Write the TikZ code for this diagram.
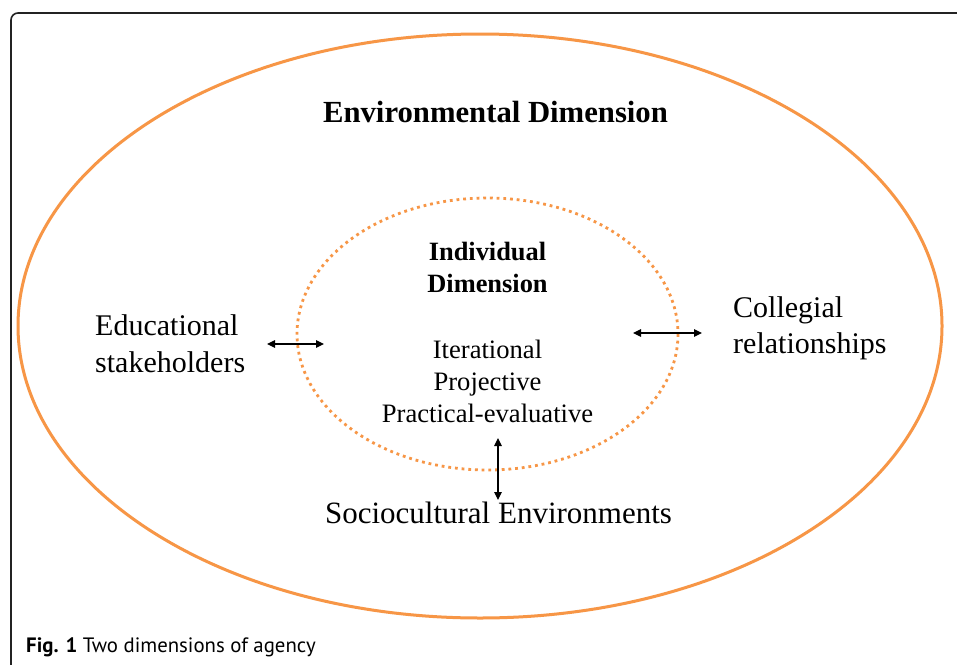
\documentclass[tikz,border=0pt]{standalone}
\usepackage{fontspec}
\setmainfont{Liberation Serif}
\newfontfamily\capfont{PT Sans}
\usetikzlibrary{arrows.meta}
\definecolor{orng}{RGB}{247,150,70}
\definecolor{framegray}{RGB}{35,35,35}
\tikzset{
  lbl/.style={inner sep=0pt, font=\fontsize{30}{37}\selectfont},
  boldlbl/.style={inner sep=0pt, font=\fontsize{30.7}{37}\selectfont\bfseries},
  innerlbl/.style={inner sep=0pt, align=center, font=\fontsize{26.6}{32}\selectfont},
  dbl/.style={line width=1.2pt, {Triangle[length=8pt,width=7.5pt]}-{Triangle[length=8pt,width=7.5pt]}},
}
\begin{document}
\begin{tikzpicture}[x=1pt,y=-1pt]
\useasboundingbox (0,0) rectangle (957,664);
\fill[white] (0,0) rectangle (957,664);
% frame
\begin{scope}
\clip (0,0) rectangle (957,664);
\draw[framegray, line width=1.6pt, rounded corners=7pt] (11,680) -- (11,13) -- (980,13);
\end{scope}
% ellipses
\draw[orng, line width=3pt] (480,326) ellipse [x radius=462, y radius=292];
\draw[orng, line width=2.8pt, dash pattern=on 2.8pt off 3.9pt] (487.5,334) ellipse [x radius=190.5, y radius=136];
% texts (base anchor of a multi-line node = baseline of its last line)
\node[boldlbl, anchor=base] (env) at (495.5,122) {Environmental Dimension};
\node[lbl, anchor=base west, align=left] (edu) at (95,372) {Educational\\stakeholders};
\node[lbl, anchor=base west, align=left, font=\fontsize{30}{36}\selectfont] (col) at (733,353) {Collegial\\relationships};
\node[lbl, anchor=base, font=\fontsize{31}{37}\selectfont] (soc) at (498.5,523) {Sociocultural Environments};
\node[innerlbl, anchor=base, font=\fontsize{26.4}{32}\selectfont\bfseries] (ind) at (487.5,292) {Individual\\Dimension};
\node[innerlbl, anchor=base] (modes) at (487.5,422) {Iterational\\Projective\\Practical-evaluative};
\node[inner sep=0pt, anchor=base west, font=\fontsize{20.8}{24}\capfont, text=black] (cap) at (26,652) {\textbf{Fig. 1} Two dimensions of agency};
% arrows
\coordinate (la) at (267,344); \coordinate (lb) at (324,344);
\coordinate (ra) at (633,333); \coordinate (rb) at (702,333);
\coordinate (va) at (498,438); \coordinate (vb) at (498,500);
\draw[dbl] (la) -- (lb);
\draw[dbl] (ra) -- (rb);
\draw[dbl] (va) -- (vb);
\end{tikzpicture}
\end{document}
